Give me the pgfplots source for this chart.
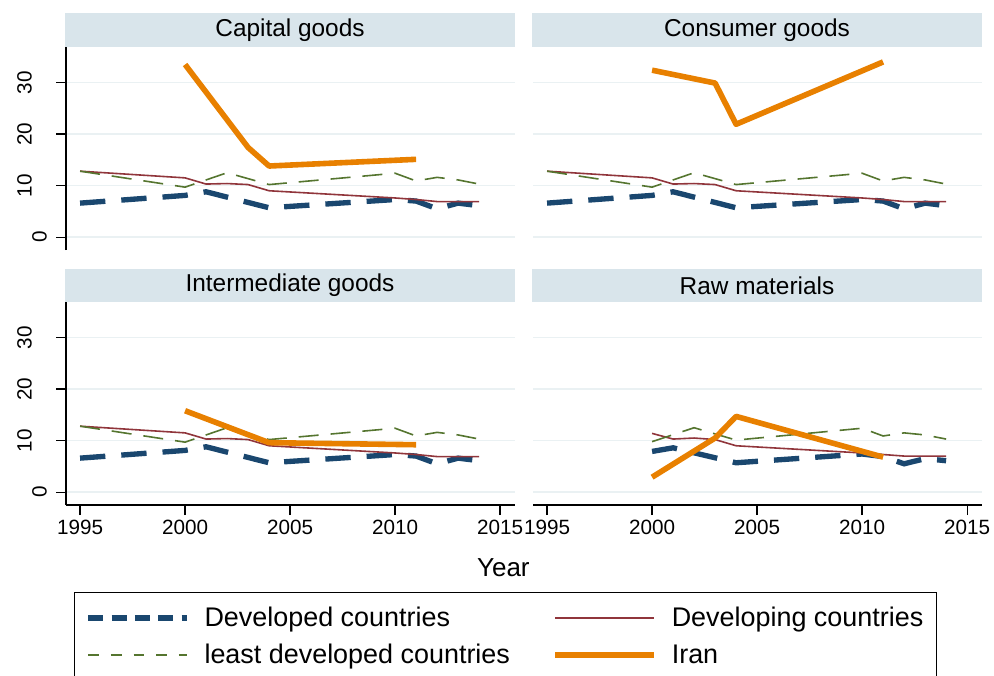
\documentclass[border=0pt]{standalone}
\usepackage{fontspec}
\setmainfont{Liberation Sans}
\usepackage{pgfplots}
\pgfplotsset{compat=1.18}
\definecolor{devc}{RGB}{26,71,111}
\definecolor{devgc}{RGB}{144,53,59}
\definecolor{ldcc}{RGB}{85,117,47}
\definecolor{iranc}{RGB}{232,128,0}
\definecolor{stripc}{RGB}{217,229,235}
\definecolor{gridc}{RGB}{234,241,243}
\pgfplotsset{
  panel/.style={scale only axis, width=336.75pt, height=152.25pt,
    xmin=1994.33, xmax=2015.71, ymin=-2.5, ymax=36.9,
    axis x line=bottom, axis y line=left, axis line style={-, black, line width=0.9pt},
    tick align=outside, major tick length=7.5pt, tick style={black, line width=0.9pt},
    ytick={0,10,20,30}, xtick={1995,2000,2005,2010,2015},
    yticklabels={},
    xticklabels={1995,2000,2005,2010,2015},
    ymajorgrids, major grid style={gridc, line width=1.1pt},
    ticklabel style={font=\fontsize{15.5}{18}\selectfont},
    legend image code/.code={\draw[#1] (0pt,0pt) -- (74.25pt,0pt);},
  },
  notop/.style={x axis line style={draw=none}, xticklabels={}, xtick style={draw=none}},
  noleft/.style={y axis line style={draw=none}, yticklabels={}, ytick style={draw=none}},
  dev/.style={devc, line width=4pt, dash pattern=on 19pt off 12pt},
  devg/.style={devgc, line width=1.2pt},
  ldc/.style={ldcc, line width=1.2pt, dash pattern=on 15pt off 9pt},
  iran/.style={iranc, line width=4.2pt, line join=round},
}
\tikzset{ylab/.style={rotate=90, anchor=south, inner sep=0pt, font=\fontsize{15.5}{18}\selectfont}}
\newcommand{\common}{%
  \addplot[dev] coordinates {(1995,6.6)(2000,8.1)(2001,8.8)(2004,5.7)(2010,7.3)(2011,7.0)(2012,5.5)(2013,6.6)(2014,6.1)};
  \addplot[devg] coordinates {(1995,12.8)(2000,11.5)(2001,10.3)(2002,10.4)(2003,10.2)(2004,9.0)(2010,7.6)(2011,7.3)(2012,6.9)(2014,6.9)};
  \addplot[ldc] coordinates {(1995,12.8)(2000,9.7)(2002,12.5)(2004,10.2)(2010,12.4)(2011,10.9)(2012,11.6)(2013,11.1)(2014,10.3)};
}
\begin{document}
\begin{tikzpicture}
\useasboundingbox (0,0) rectangle (745.5pt,-506.25pt);
% top left: Capital goods
\begin{axis}[panel, notop, at={(49.5pt,-35.25pt)}, anchor=north west]
  \common
  \addplot[iran] coordinates {(2000,33.5)(2003,17.4)(2004,13.8)(2011,15.1)};
\end{axis}
% top right: Consumer goods
\begin{axis}[panel, notop, noleft, at={(399.75pt,-35.25pt)}, anchor=north west]
  \common
  \addplot[iran] coordinates {(2000,32.4)(2003,29.9)(2004,21.9)(2011,34.0)};
\end{axis}
% bottom left: Intermediate goods
\begin{axis}[panel, at={(49.5pt,-226.5pt)}, anchor=north west,
  legend columns=2,
  legend style={at={(0.0178,-0.4286)}, anchor=north west, draw=black, line width=0.8pt,
    inner xsep=8.25pt, inner ysep=11pt, font=\fontsize{20.2}{23}\selectfont,
    nodes={inner sep=0pt, anchor=west},
    /tikz/every odd column/.append style={column sep=11pt},
    /tikz/every even column/.append style={column sep=15pt},
    row sep=11.5pt},
  legend cell align=left]
  \addplot[dev, legend image code/.code={\draw[devc, line width=4pt, dash pattern=on 11.25pt off 6.25pt] (0pt,0pt) -- (74.25pt,0pt);}] coordinates {(1995,6.6)(2000,8.1)(2001,8.8)(2004,5.7)(2010,7.3)(2011,7.0)(2012,5.5)(2013,6.6)(2014,6.1)};
  \addlegendentry{\makebox[246pt][l]{Developed countries}}
  \addplot[devg] coordinates {(1995,12.8)(2000,11.5)(2001,10.3)(2002,10.4)(2003,10.2)(2004,9.0)(2010,7.6)(2011,7.3)(2012,6.9)(2014,6.9)};
  \addlegendentry{\makebox[190pt][l]{Developing countries}}
  \addplot[ldc, legend image code/.code={\draw[ldcc, line width=1.2pt, dash pattern=on 8pt off 9pt] (0pt,0pt) -- (74.25pt,0pt);}] coordinates {(1995,12.8)(2000,9.7)(2002,12.5)(2004,10.2)(2010,12.4)(2011,10.9)(2012,11.6)(2013,11.1)(2014,10.3)};
  \addlegendentry{\makebox[246pt][l]{least developed countries}}
  \addplot[iran] coordinates {(2000,15.8)(2004,9.6)(2011,9.2)};
  \addlegendentry{\makebox[190pt][l]{Iran}}
\end{axis}
% bottom right: Raw materials
\begin{axis}[panel, noleft, at={(399.75pt,-226.5pt)}, anchor=north west]
  \addplot[dev] coordinates {(2000,7.9)(2001,8.6)(2004,5.7)(2010,7.4)(2011,6.9)(2012,5.5)(2013,6.5)(2014,6.1)};
  \addplot[devg] coordinates {(2000,11.4)(2001,10.3)(2002,10.5)(2003,10.2)(2004,9.0)(2010,7.6)(2012,7.0)(2014,7.0)};
  \addplot[ldc] coordinates {(2000,9.8)(2002,12.5)(2004,10.1)(2010,12.4)(2011,10.9)(2012,11.5)(2013,11.1)(2014,10.3)};
  \addplot[iran] coordinates {(2000,2.9)(2003,10.5)(2004,14.7)(2011,6.8)};
\end{axis}
% y tick labels (rotated, Stata style)
\node[ylab] at (24pt,-61.91pt) {30};
\node[ylab] at (24pt,-100.55pt) {20};
\node[ylab] at (24pt,-139.2pt) {10};
\node[ylab] at (35.25pt,-177.83pt) {0};
\node[ylab] at (24pt,-253.16pt) {30};
\node[ylab] at (24pt,-291.8pt) {20};
\node[ylab] at (24pt,-330.45pt) {10};
\node[ylab] at (35.25pt,-369.08pt) {0};
% title strips
\fill[stripc] (48.75pt,-9.75pt) rectangle (386.25pt,-35.25pt);
\fill[stripc] (399pt,-9.75pt) rectangle (736.5pt,-35.25pt);
\fill[stripc] (48.75pt,-201.75pt) rectangle (386.25pt,-226.5pt);
\fill[stripc] (399pt,-201.75pt) rectangle (736.5pt,-226.5pt);
\node[font=\fontsize{18.3}{22}\selectfont] at (217.5pt,-22.5pt) {Capital goods};
\node[font=\fontsize{18.3}{22}\selectfont] at (567.75pt,-22.5pt) {Consumer goods};
\node[font=\fontsize{18.3}{22}\selectfont] at (217.5pt,-214.1pt) {Intermediate goods};
\node[font=\fontsize{18.3}{22}\selectfont] at (567.75pt,-214.1pt) {Raw materials};
\node[font=\fontsize{19.5}{23}\selectfont] at (377.5pt,-426pt) {Year};
\end{tikzpicture}
\end{document}
